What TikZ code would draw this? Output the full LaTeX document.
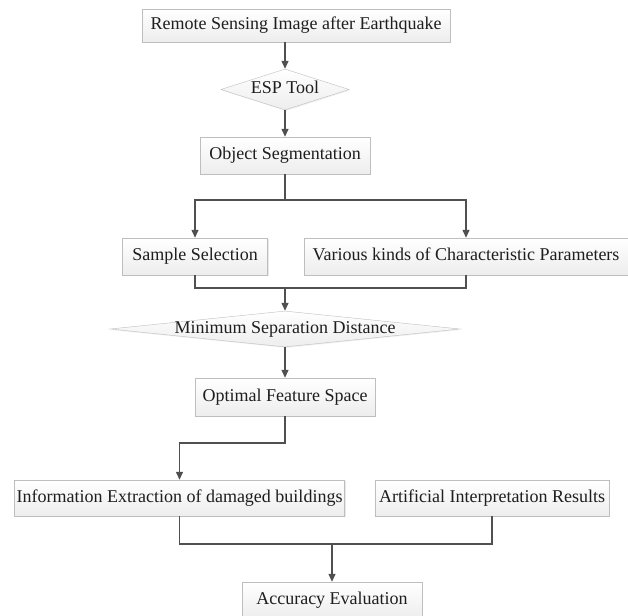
\documentclass[tikz,border=0pt]{standalone}
\usepackage{fontspec}
\setmainfont{Liberation Serif}
\usepackage{tikz}
\usetikzlibrary{arrows.meta,shapes.geometric,shadows}

\definecolor{edgegray}{RGB}{190,190,190}
\definecolor{linegray}{RGB}{80,80,80}
\definecolor{textgray}{RGB}{30,30,30}

\begin{document}
\begin{tikzpicture}[x=1pt,y=-1pt]
		\tikzstyle{every node}+=[font=\fontsize{18}{20}\selectfont, text=textgray, text height=12pt, text depth=4pt]
		\tikzstyle{box}=[rectangle, draw=edgegray, top color=white, bottom color=gray!14, inner sep=2pt, minimum height=37pt, drop shadow={opacity=0.18, shadow xshift=1.2pt, shadow yshift=-1.2pt}]
		\tikzstyle{decision}=[diamond, draw=edgegray, top color=white, bottom color=gray!14, inner xsep=0pt, inner ysep=-5pt, aspect=10, drop shadow={opacity=0.12, shadow xshift=1pt, shadow yshift=-1pt}]
		\tikzstyle{line}=[draw=linegray, line width=1.3pt]
		\tikzstyle{link}=[line, -{Triangle[length=8pt, width=7pt]}]
		\useasboundingbox (0,0) rectangle (628,615);
		% boxes, top to bottom
		\node [box, minimum width=308pt, minimum height=33pt] (img) at (296,25.5) {Remote Sensing Image after Earthquake};
		\node [decision, minimum width=126pt, minimum height=41pt] (esp) at (285,89.5) {ESP Tool};
		\node [box, minimum width=170pt] (seg) at (285,155.5) {Object Segmentation};
		\node [box, minimum width=145pt] (sample) at (195,256.5) {Sample Selection};
		\node [box, minimum width=324pt] (param) at (466,256.5) {Various kinds of Characteristic Parameters};
		\node [decision, minimum width=350pt, minimum height=36pt] (minsep) at (285,329) {Minimum Separation Distance};
		\node [box, minimum width=180pt, minimum height=38pt] (optimal) at (285,397) {Optimal Feature Space};
		\node [box, minimum width=330pt, minimum height=36pt] (info) at (179.5,498) {Information Extraction of damaged buildings};
		\node [box, minimum width=234pt, minimum height=36pt] (interp) at (492,498) {Artificial Interpretation Results};
		\node [box, minimum width=180pt] (accuracy) at (332,600.5) {Accuracy Evaluation};
		% junctions
		\coordinate (split) at (285,200);
		\coordinate (join) at (285,288);
		\coordinate (bend) at (285,443);
		\coordinate (merge) at (332,544);
		% connectors
		\draw [link] (esp.north |- img.south) -- (esp.north);
		\draw [link] (esp.south) -- (seg.north);
		\draw [line] (seg.south) -- (split);
		\draw [link] (split) -| (sample.north);
		\draw [link] (split) -| (param.north);
		\draw [line] (sample.south) |- (join);
		\draw [line] (param.south) |- (join);
		\draw [link] (join) -- (minsep.north);
		\draw [link] (minsep.south) -- (optimal.north);
		\draw [link] (optimal.south) -- (bend) -| (info.north);
		\draw [line] (info.south) |- (merge);
		\draw [line] (interp.south) |- (merge);
		\draw [link] (merge) -- (accuracy.north);
\end{tikzpicture}
\end{document}
